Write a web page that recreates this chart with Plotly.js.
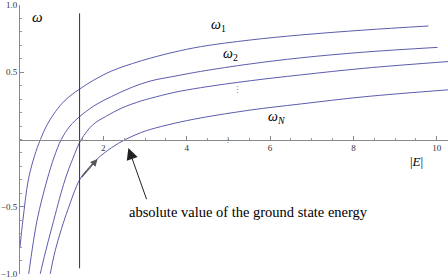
<!DOCTYPE html>
<html><head><meta charset="utf-8">
<script src="https://cdn.plot.ly/plotly-3.0.1.min.js"></script>
<style>html,body{margin:0;padding:0;background:#fff}#c{width:448px;height:280px}</style>
</head><body><div id="c"></div>
<script>
// Curve values (|E|, omega)
const w1X = [0.0, 0.07, 0.20, 0.35, 0.49, 0.65, 0.85, 1.09, 1.43, 1.80, 2.20, 2.70, 3.13, 3.70, 4.33, 5.53, 6.73, 8.27, 9.80];
const w1Y = [-0.80, -0.60, -0.30, -0.12, 0.0, 0.11, 0.207, 0.294, 0.375, 0.447, 0.510, 0.565, 0.605, 0.650, 0.690, 0.740, 0.777, 0.814, 0.844];
const w2X = [0.18, 0.21, 0.41, 0.65, 0.82, 0.99, 1.20, 1.43, 1.80, 2.20, 2.70, 3.13, 3.70, 4.33, 5.53, 6.73, 8.27, 10.02];
const w2Y = [-1.06, -0.995, -0.60, -0.30, -0.13, 0.0, 0.10, 0.170, 0.255, 0.320, 0.390, 0.435, 0.470, 0.506, 0.562, 0.607, 0.650, 0.685];
const w3X = [0.46, 0.49, 0.81, 1.08, 1.27, 1.47, 1.75, 2.05, 2.45, 2.89, 3.13, 3.70, 4.33, 5.53, 6.73, 8.27, 10.30];
const w3Y = [-1.06, -0.995, -0.60, -0.30, -0.14, 0.0, 0.11, 0.170, 0.235, 0.285, 0.306, 0.350, 0.385, 0.437, 0.480, 0.530, 0.580];
const wNX = [0.71, 0.73, 0.85, 1.00, 1.15, 1.43, 1.65, 1.85, 2.20, 2.53, 2.89, 3.13, 3.70, 4.33, 5.53, 6.73, 8.27, 10.30];
const wNY = [-1.06, -0.995, -0.82, -0.66, -0.52, -0.30, -0.21, -0.145, -0.06, 0.0, 0.050, 0.075, 0.120, 0.160, 0.219, 0.264, 0.318, 0.370];
// Vertical marker line
const markX = [1.43, 1.43];
const markY = [-0.958, 0.938];
// Tick labels
const xTickVals = [2, 4, 6, 8, 10];
const xTickText = ['2', '4', '6', '8', '10'];
const yTickVals = [-1, -0.5, 0.5, 1];
const yTickText = ['\u22121.0', '\u22120.5', '0.5', '1.0'];
// Label positions / texts
const curveLabels = ['<i>ω</i><sub>1</sub>', '<i>ω</i><sub>2</sub>', '⋮', '<i>ω</i><sub><i>N</i></sub>'];
const curveLabelX = [4.76, 5.05, 5.23, 6.15];
const curveLabelY = [0.844, 0.635, 0.368, 0.167];

const curveColor = 'rgb(92,92,172)';
const serif = 'Liberation Serif, Times New Roman, serif';
function curve(x, y) {
  return {x: x, y: y, type: 'scatter', mode: 'lines', hoverinfo: 'skip',
    line: {color: curveColor, width: 1, shape: 'spline', smoothing: 1}};
}
const traces = [
  curve(w1X, w1Y), curve(w2X, w2Y), curve(w3X, w3Y), curve(wNX, wNY),
  {x: markX, y: markY, type: 'scatter', mode: 'lines', hoverinfo: 'skip',
   line: {color: '#333', width: 1}}
];

const annotations = [];
for (let i = 0; i < curveLabels.length; i++) {
  annotations.push({x: curveLabelX[i], y: curveLabelY[i], xref: 'x', yref: 'y',
    text: curveLabels[i], showarrow: false,
    font: {family: serif, size: i === 2 ? 9 : 14, color: i === 2 ? '#888' : '#000'}});
}
annotations.push({x: 0.41, y: 0.913, xref: 'x', yref: 'y', text: '<i>ω</i>', showarrow: false,
  font: {family: serif, size: 15, color: '#000'}});
annotations.push({x: 9.52, y: -0.165, xref: 'x', yref: 'y', text: '|<i>E</i>|', showarrow: false,
  font: {family: serif, size: 13, color: '#000'}});
annotations.push({x: 5, y: 0, xref: 'x', yref: 'y', text: '⋮', showarrow: false,
  font: {family: serif, size: 8, color: '#777'}});
annotations.push({x: 2.57, y: -0.54, xref: 'x', yref: 'y', xanchor: 'left',
  text: 'absolute value of the ground state energy', showarrow: false,
  font: {family: serif, size: 14.5, color: '#000'}});
// big arrow
annotations.push({x: 2.60, y: -0.063, ax: 3.05, ay: -0.455, xref: 'x', yref: 'y', axref: 'x', ayref: 'y',
  text: '', showarrow: true, arrowhead: 2, arrowsize: 2.3, arrowwidth: 1, arrowcolor: '#222'});
// small arrow along the lowest curve
annotations.push({x: 1.86, y: -0.145, ax: 1.45, ay: -0.29, xref: 'x', yref: 'y', axref: 'x', ayref: 'y',
  text: '', showarrow: true, arrowhead: 2, arrowsize: 1.2, arrowwidth: 1.2, arrowcolor: '#555'});

const layout = {
  width: 448, height: 280,
  margin: {l: 20, r: 0, t: 5, b: 6},
  paper_bgcolor: '#fff', plot_bgcolor: '#fff',
  showlegend: false,
  xaxis: {range: [0, 10.27], anchor: 'free', position: 0.5, showgrid: false, zeroline: false,
    showline: true, linecolor: '#888', linewidth: 1,
    tickvals: xTickVals, ticktext: xTickText, ticks: 'inside', ticklen: 4, tickcolor: '#888',
    minor: {dtick: 0.5, tick0: 0, ticks: 'inside', ticklen: 2, tickcolor: '#999'},
    tickfont: {family: serif, size: 9, color: '#333'}, automargin: false, fixedrange: true},
  yaxis: {range: [-1, 1], anchor: 'x', showgrid: false, zeroline: false,
    showline: true, linecolor: '#888', linewidth: 1,
    tickvals: yTickVals, ticktext: yTickText, ticks: 'inside', ticklen: 4, tickcolor: '#888',
    minor: {dtick: 0.1, tick0: 0, ticks: 'inside', ticklen: 2, tickcolor: '#999'},
    tickfont: {family: serif, size: 9, color: '#333'}, automargin: false, fixedrange: true},
  annotations: annotations
};
Plotly.newPlot('c', traces, layout, {staticPlot: true, displayModeBar: false});
</script></body></html>
